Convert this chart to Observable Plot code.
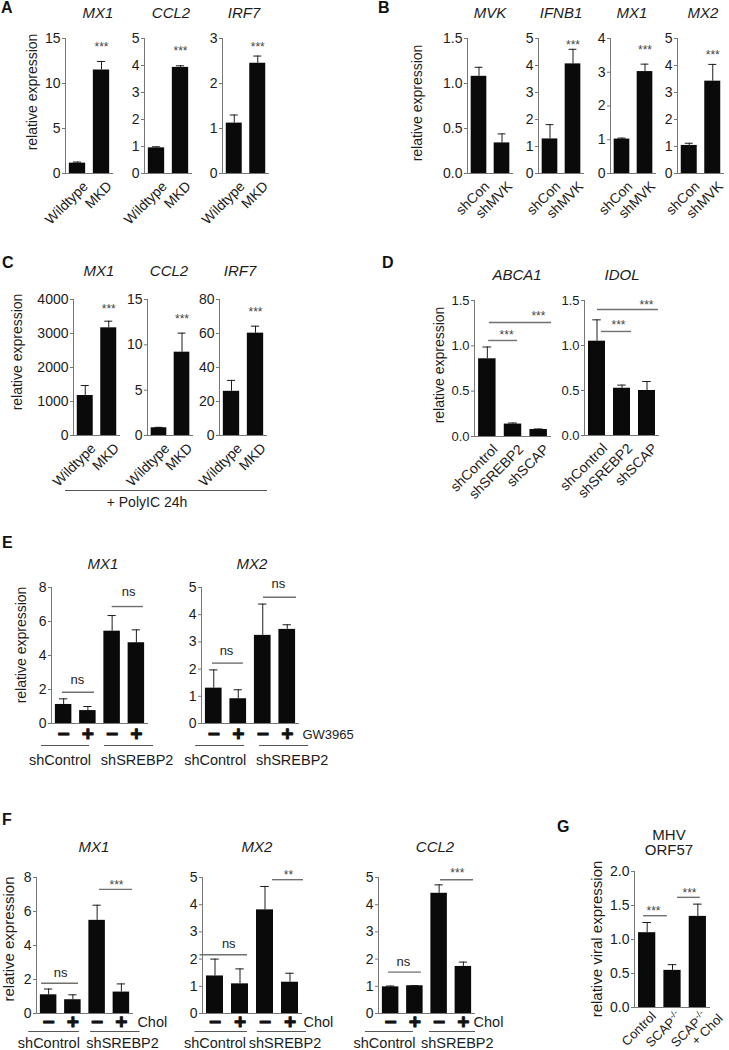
<!DOCTYPE html>
<html><head><meta charset="utf-8">
<script src="https://cdn.jsdelivr.net/npm/d3@7"></script>
<script src="https://cdn.jsdelivr.net/npm/@observablehq/plot@0.6"></script>
<style>
html,body{margin:0;padding:0;background:#fff;}
#fig{position:relative;width:729px;height:1050px;overflow:hidden;background:#fff;font-family:"Liberation Sans",Arial,sans-serif;}
.sub{position:absolute;}
.sub svg{background:transparent !important;overflow:visible;display:block;}
#overlay{position:absolute;left:0;top:0;}
</style></head><body><div id="fig"></div>
<script>
// ================= DATA =================
// Panel A: MKD vs wildtype
const catsA = ["Wildtype", "MKD"];
const aMX1 = [1.15, 11.5],  aMX1Err = [0.12, 0.95];
const aCCL2 = [0.95, 3.93], aCCL2Err = [0.04, 0.06];
const aIRF7 = [1.12, 2.45], aIRF7Err = [0.18, 0.16];
const sigA = ["", "***"];
// Panel B: shMVK knockdown
const catsB = ["shCon", "shMVK"];
const bMVK = [1.08, 0.34],   bMVKErr = [0.10, 0.10];
const bIFNB1 = [1.28, 4.06], bIFNB1Err = [0.53, 0.54];
const bMX1 = [1.02, 3.02],   bMX1Err = [0.03, 0.22];
const bMX2 = [1.04, 3.42],   bMX2Err = [0.08, 0.62];
const sigBMVK = ["", ""], sigB = ["", "***"];
// Panel C: + PolyIC 24h
const catsC = ["Wildtype", "MKD"];
const cMX1 = [1176, 3167],  cMX1Err = [294, 195];
const cCCL2 = [0.85, 9.19], cCCL2Err = [0.05, 2.1];
const cIRF7 = [26, 60.2],   cIRF7Err = [6.4, 4.1];
const sigC = ["", "***"];
// Panel D
const catsD = ["shControl", "shSREBP2", "shSCAP"];
const dABCA1 = [0.857, 0.137, 0.077], dABCA1Err = [0.13, 0.012, 0.006];
const dIDOL = [1.048, 0.525, 0.50],   dIDOLErr = [0.237, 0.035, 0.10];
const pairsD = [[0, 1, "***"], [0, 2, "***"]];
// Panels E / F
const groupsEF = ["shControl", "shSREBP2"];
const signsEF = ["−", "+", "−", "+"];
const treatE = "GW3965", treatF = "Chol";
const eMX1 = [1.12, 0.76, 5.43, 4.75], eMX1Err = [0.33, 0.24, 0.92, 0.76];
const eMX2 = [1.30, 0.91, 3.24, 3.46], eMX2Err = [0.67, 0.33, 1.15, 0.17];
const pairsE = [[0, 1, "ns"], [2, 3, "ns"]];
const fMX1 = [1.10, 0.81, 5.48, 1.26], fMX1Err = [0.34, 0.29, 0.89, 0.48];
const fMX2 = [1.38, 1.09, 3.81, 1.15], fMX2Err = [0.62, 0.55, 0.86, 0.33];
const fCCL2 = [0.98, 1.02, 4.42, 1.73], fCCL2Err = [0.03, 0.0, 0.31, 0.16];
const pairsFMX1 = [[0, 1, "ns"], [2, 3, "***"]];
const pairsFMX2 = [[0, 1, "ns"], [2, 3, "**"]];
const pairsFCCL2 = [[0, 1, "ns"], [2, 3, "***"]];
// Panel G
const catsG = ["Control", "SCAP-/-", "SCAP-/-\n+ Chol"];
const gORF57 = [1.10, 0.546, 1.34], gORF57Err = [0.15, 0.084, 0.18];
const pairsG = [[0, 1, "***"], [1, 2, "***"]];
// Tick values
const t15 = [0, 5, 10, 15], t5 = [0, 1, 2, 3, 4, 5], t4 = [0, 1, 2, 3, 4], t3 = [0, 1, 2, 3];
const t15d = [0, 0.5, 1, 1.5], t4000 = [0, 1000, 2000, 3000, 4000], t80 = [0, 20, 40, 60, 80];
const t8 = [0, 2, 4, 6, 8], t2 = [0, 0.5, 1, 1.5, 2];

// ================= STYLE / LAYOUT =================
const FONT = '"Liberation Sans", Arial, sans-serif';
const INK = "#1c1c1c", AXIS = "#777", BARFILL = "#0a0a0a", LINE = "#707070", STAR = "#444";
const BAR = 0.34, CAP = 0.17;
const ML = 60, MT = 50, MR = 90, MB = 95;
const f0 = d3.format("d"), f1 = d3.format(".1f");

const subs = [
  // A
  {cats: catsA, v: aMX1, e: aMX1Err, sig: sigA, starY: 14.0, frame: [65, 38, 48, 135], ymax: 15, ticks: t15, fmt: f0, rot: true},
  {cats: catsA, v: aCCL2, e: aCCL2Err, sig: sigA, starY: 4.52, frame: [144, 38, 48, 135], ymax: 5, ticks: t5, fmt: f0, rot: true},
  {cats: catsA, v: aIRF7, e: aIRF7Err, sig: sigA, starY: 2.8, frame: [222, 38, 47, 135], ymax: 3, ticks: t3, fmt: f0, rot: true},
  // B
  {cats: catsB, v: bMVK, e: bMVKErr, sig: sigBMVK, starY: 1.4, frame: [467, 38, 46, 135], ymax: 1.5, ticks: t15d, fmt: f1, rot: true},
  {cats: catsB, v: bIFNB1, e: bIFNB1Err, sig: sigB, starY: 4.75, frame: [538, 38, 46, 135], ymax: 5, ticks: t5, fmt: f0, rot: true},
  {cats: catsB, v: bMX1, e: bMX1Err, sig: sigB, starY: 3.65, frame: [610, 38, 46, 135], ymax: 4, ticks: t4, fmt: f0, rot: true},
  {cats: catsB, v: bMX2, e: bMX2Err, sig: sigB, starY: 4.38, frame: [677, 38, 47, 135], ymax: 5, ticks: t5, fmt: f0, rot: true},
  // C
  {cats: catsC, v: cMX1, e: cMX1Err, sig: sigC, starY: 3706, frame: [73, 299, 47, 136], ymax: 4000, ticks: t4000, fmt: f0, rot: true},
  {cats: catsC, v: cCCL2, e: cCCL2Err, sig: sigC, starY: 12.8, frame: [147, 299, 46, 136], ymax: 15, ticks: t15, fmt: f0, rot: true},
  {cats: catsC, v: cIRF7, e: cIRF7Err, sig: sigC, starY: 72.4, frame: [219, 299, 48, 136], ymax: 80, ticks: t80, fmt: f0, rot: true},
  // D
  {cats: catsD, v: dABCA1, e: dABCA1Err, pairs: pairsD, br: [[0.05, 0.18, 1.059, 0.25, 1.117], [0.08, 0.5, 1.257, 0.99, 1.327]],
   frame: [474, 300, 77, 136], ymax: 1.5, ticks: t15d, fmt: f1, tickFont: 13, rot: true},
  {cats: catsD, v: dIDOL, e: dIDOLErr, pairs: pairsD, br: [[0.18, 0.38, 1.156, 0.36, 1.222], [0.02, 0.46, 1.40, 0.98, 1.444]],
   frame: [584, 300, 75, 135], ymax: 1.5, ticks: t15d, fmt: f1, tickFont: 13, rot: true},
  // E
  {v: eMX1, e: eMX1Err, pairs: pairsE, br: [[-0.05, 0.27, 1.84, 0.07, 2.59], [0, 0.29, 6.88, 0.18, 7.72]],
   frame: [51, 587, 97, 136], ymax: 8, ticks: t8, fmt: f0,
   groups: {lines: [[-0.91, 1.07], [1.69, 3.71]], labels: [-0.15, 3.03], signDy: 11, lineDy: 22, labelDy: 37, font: 14.5}},
  {v: eMX2, e: eMX2Err, pairs: pairsE, br: [[-0.05, 0.21, 2.22, 0.02, 2.68], [0.03, 0.38, 4.64, 0.14, 5.12]],
   frame: [201, 587, 98, 136], ymax: 5, ticks: t5, fmt: f0,
   groups: {lines: [[-0.74, 1.26], [1.87, 3.87]], labels: [0.06, 3.2], signDy: 11, lineDy: 22, labelDy: 37, font: 14.5, treat: treatE, treatX: 3.62, treatFont: 13}},
  // F
  {v: fMX1, e: fMX1Err, pairs: pairsFMX1, br: [[-0.29, 0.23, 1.78, -0.01, 2.37], [0.1, 0.46, 7.30, 0.3, 7.57]],
   frame: [36, 877, 97, 136], ymax: 8, ticks: t8, fmt: f0,
   groups: {lines: [[-0.82, 1.27], [1.73, 3.77]], labels: [0.01, 3.05], signDy: 9, lineDy: 18, labelDy: 30, font: 14.5, treat: treatF, treatX: 3.66, treatFont: 14.5}},
  {v: fMX2, e: fMX2Err, pairs: pairsFMX2, br: [[-0.6, 0.3, 2.16, 0.05, 2.56], [0.3, 0.54, 4.92, 0.44, 5.08]],
   frame: [202, 877, 100, 136], ymax: 5, ticks: t5, fmt: f0,
   groups: {lines: [[-0.8, 1.3], [1.69, 3.66]], labels: [0.0, 2.8], signDy: 9, lineDy: 18, labelDy: 30, font: 14.5, treat: treatF, treatX: 3.54, treatFont: 14.5}},
  {v: fCCL2, e: fCCL2Err, pairs: pairsFCCL2, br: [[-0.09, 0.27, 1.52, 0.03, 1.89], [0.06, 0.42, 4.92, 0.25, 5.15]],
   frame: [378, 877, 97, 136], ymax: 5, ticks: t5, fmt: f0,
   groups: {lines: [[-1.04, 0.94], [1.6, 3.5]], labels: [-0.25, 2.75], signDy: 9, lineDy: 18, labelDy: 30, font: 14.5, treat: treatF, treatX: 3.42, treatFont: 14.5}},
  // G
  {cats: catsG, v: gORF57, e: gORF57Err, pairs: pairsG, br: [[-0.14, -0.2, 1.35, -0.25, 1.42], [0.2, 0.1, 1.62, 0.17, 1.68]],
   frame: [634, 871, 76, 136], ymax: 2, ticks: t2, fmt: f1, rot: true, sup: true, lineAnchor: "top", ldx: 3, ldy: 3, labelFont: 13}
];

const fig = document.getElementById("fig");

function draw(s) {
  const [fl, ft, fw, fh] = s.frame;
  const n = s.v.length;
  const xDomain = [-0.5, n - 0.5];
  const rows = s.v.map((v, i) => ({i, v, top: v + s.e[i]}));
  const marks = [
    Plot.ruleX(rows, {x: "i", y1: "v", y2: "top", stroke: INK, strokeWidth: 1}),
    Plot.ruleY(rows, {y: "top", x1: d => d.i - CAP, x2: d => d.i + CAP, stroke: INK, strokeWidth: 1}),
    Plot.rect(rows, {x1: d => d.i - BAR, x2: d => d.i + BAR, y1: 0, y2: "v", fill: BARFILL}),
    Plot.ruleX([xDomain[0]], {stroke: AXIS, strokeWidth: 1}),
    Plot.ruleY([0], {stroke: AXIS, strokeWidth: 1}),
    Plot.axisY(s.ticks, {tickFormat: s.fmt, tickSize: 3, tickPadding: 2, fontSize: s.tickFont ?? 14, stroke: AXIS, fill: INK, label: null})
  ];
  if (s.rot) {
    marks.push(Plot.axisX(d3.range(n), {tickFormat: i => s.cats[i], tickRotate: -45, tickSize: 0, tickPadding: 0,
      textAnchor: "end", lineAnchor: s.lineAnchor ?? "middle", dx: s.ldx ?? 8, dy: s.ldy ?? 10.5,
      fontSize: s.labelFont ?? 14, fill: INK, label: null}));
  }
  if (s.sig) {
    marks.push(Plot.text(rows.filter(d => s.sig[d.i]), {x: "i", y: () => s.starY, text: d => s.sig[d.i], fontSize: 12, fill: STAR}));
  }
  if (s.pairs) {
    const br = s.pairs.map(([a, b, label], k) => {
      const [oa, ob, y, ot, ty] = s.br[k];
      return {label, x1: a + oa, x2: b + ob, y, tx: (a + b) / 2 + ot, ty};
    });
    marks.push(Plot.ruleY(br, {y: "y", x1: "x1", x2: "x2", stroke: LINE, strokeWidth: 1.4}));
    marks.push(Plot.text(br, {x: "tx", y: "ty", text: "label", fontSize: d => d.label === "ns" ? 13 : 12,
      fill: d => d.label === "ns" ? INK : STAR}));
  }
  if (s.groups) {
    const g = s.groups;
    marks.push(Plot.text(rows, {x: "i", y: 0, dy: g.signDy, text: d => signsEF[d.i], fontSize: 21, fontWeight: "bold",
      fill: "#111", stroke: "#111", strokeWidth: 0.9}));
    const gl = groupsEF.map((name, k) => ({name, x1: g.lines[k][0], x2: g.lines[k][1], lx: g.labels[k]}));
    marks.push(Plot.ruleY(gl, {y: 0, x1: "x1", x2: "x2", dy: g.lineDy, stroke: "#555", strokeWidth: 1}));
    marks.push(Plot.text(gl, {x: "lx", y: 0, dy: g.labelDy, text: "name", fontSize: g.font, fill: INK}));
    if (g.treat) marks.push(Plot.text([g.treat], {x: () => g.treatX, y: 0, dy: g.signDy, text: d => d, textAnchor: "start", fontSize: g.treatFont, fill: INK}));
  }
  const svg = Plot.plot({
    width: ML + fw + MR, height: MT + fh + MB,
    marginLeft: ML, marginRight: MR, marginTop: MT, marginBottom: MB,
    x: {type: "linear", domain: xDomain, axis: null, label: null},
    y: {domain: [0, s.ymax], axis: null, label: null},
    style: {background: "transparent", overflow: "visible", fontFamily: FONT, color: INK},
    marks
  });
  if (s.sup) {
    svg.querySelectorAll("text, tspan").forEach(el => {
      if (el.childNodes.length === 1 && el.firstChild.nodeType === 3 && el.textContent === "SCAP-/-") {
        el.textContent = "SCAP";
        const t = document.createElementNS("http://www.w3.org/2000/svg", "tspan");
        t.setAttribute("baseline-shift", "super");
        t.setAttribute("font-size", "9");
        t.textContent = "-/-";
        el.appendChild(t);
      }
      if (el.tagName === "tspan" && el.textContent === "+ Chol") el.setAttribute("dx", "10");
    });
  }
  const wrap = document.createElement("div");
  wrap.className = "sub";
  wrap.style.left = (fl - ML) + "px";
  wrap.style.top = (ft - MT) + "px";
  wrap.style.width = (ML + fw + MR) + "px";
  wrap.style.height = (MT + fh + MB) + "px";
  wrap.appendChild(svg);
  fig.appendChild(wrap);
}
subs.forEach(draw);

// ================= ANNOTATIONS =================
const letters = [["A", 1, 13], ["B", 378, 13], ["C", 2, 268], ["D", 382, 268], ["E", 2, 548], ["F", 2, 825], ["G", 557, 832]];
const titles = [
  ["MX1", 98, 18], ["CCL2", 171, 18], ["IRF7", 244, 18],
  ["MVK", 490, 18], ["IFNB1", 561, 18], ["MX1", 632, 18], ["MX2", 703, 18],
  ["MX1", 99, 276], ["CCL2", 169, 276], ["IRF7", 240, 276],
  ["ABCA1", 517, 280], ["IDOL", 622, 280],
  ["MX1", 103, 569], ["MX2", 252, 569],
  ["MX1", 94, 852], ["MX2", 257, 852], ["CCL2", 435, 852]
];
const ylabels = [
  ["relative expression", 32, 92, 14], ["relative expression", 417, 103, 14], ["relative expression", 17, 352, 14],
  ["relative expression", 439, 365, 14], ["relative expression", 21, 645, 14], ["relative expression", 8.5, 939, 15],
  ["relative viral expression", 597, 939, 15]
];
const ov = d3.select(fig).append("svg").attr("id", "overlay").attr("width", 729).attr("height", 1050)
  .style("font-family", FONT).style("overflow", "visible");
ov.selectAll("text.letter").data(letters).join("text").attr("class", "letter")
  .attr("x", d => d[1]).attr("y", d => d[2]).attr("font-size", 16).attr("font-weight", "bold").attr("fill", "#111").text(d => d[0]);
ov.selectAll("text.title").data(titles).join("text").attr("class", "title")
  .attr("x", d => d[1]).attr("y", d => d[2]).attr("text-anchor", "middle").attr("font-size", 15)
  .attr("font-style", "italic").attr("fill", INK).text(d => d[0]);
ov.selectAll("text.ylab").data(ylabels).join("text").attr("class", "ylab")
  .attr("transform", d => `translate(${d[1]},${d[2]}) rotate(-90)`).attr("text-anchor", "middle").attr("dy", "0.35em")
  .attr("font-size", d => d[3]).attr("fill", INK).text(d => d[0]);
ov.append("text").attr("x", 669).attr("y", 840).attr("text-anchor", "middle").attr("font-size", 15).attr("fill", INK).text("MHV");
ov.append("text").attr("x", 669).attr("y", 855).attr("text-anchor", "middle").attr("font-size", 15).attr("fill", INK).text("ORF57");
ov.append("line").attr("x1", 65).attr("x2", 267).attr("y1", 490.5).attr("y2", 490.5).attr("stroke", "#555");
ov.append("text").attr("x", 147).attr("y", 507).attr("text-anchor", "middle").attr("font-size", 14).attr("fill", INK).text("+ PolyIC 24h");
</script></body></html>
